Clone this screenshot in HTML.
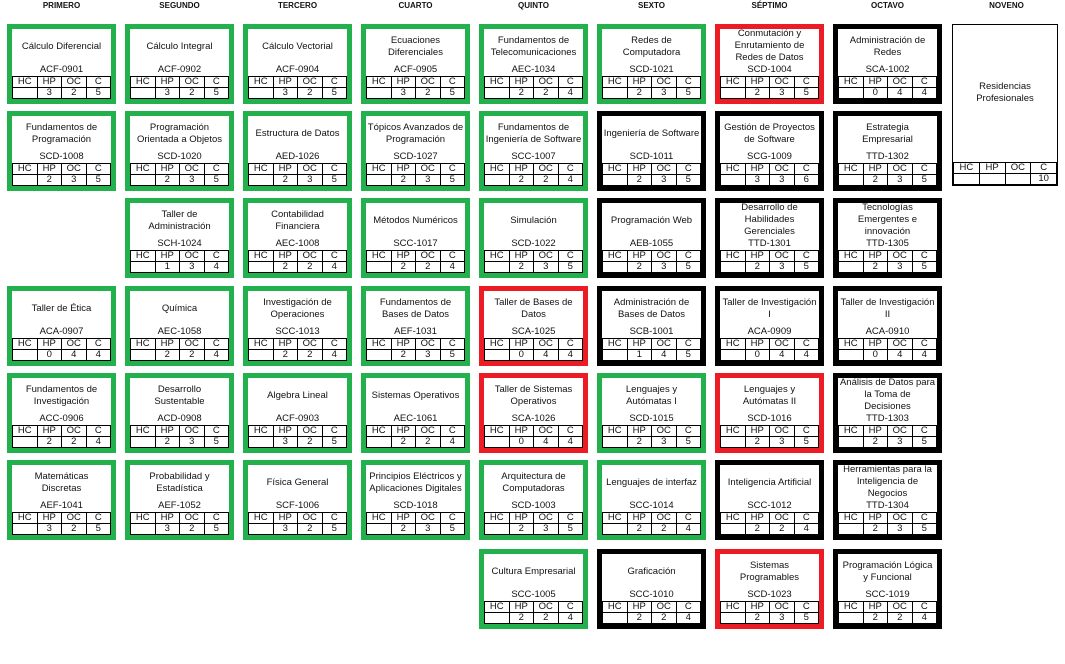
<!DOCTYPE html>
<html><head><meta charset="utf-8"><style>
body{margin:0;width:1065px;height:664px;background:#fff;position:relative;overflow:hidden;font-family:"Liberation Sans",sans-serif;color:#111}
.h{position:absolute;top:1px;width:109px;text-align:center;font-size:8px;font-weight:bold}
.b{position:absolute;width:99px;height:70px;border:5px solid #22b14c;background:#fff;box-sizing:content-box}
.g{border-color:#22b14c}.r{border-color:#ed1c24}.k{border-color:#000}
.t{position:absolute;left:0;right:0;top:0;height:35px;display:flex;align-items:center;justify-content:center;text-align:center;font-size:9.5px;line-height:12px}
.c{position:absolute;left:0;right:0;top:35px;text-align:center;font-size:9.5px;line-height:11px}
table{position:absolute;left:0;bottom:0;width:100%;border-collapse:collapse;font-size:9.5px;table-layout:fixed}
td{border:1px solid #000;height:10px;padding:0;text-align:center;line-height:10px}
</style></head><body>
<div class="h" style="left:7px">PRIMERO</div><div class="h" style="left:125px">SEGUNDO</div><div class="h" style="left:243px">TERCERO</div><div class="h" style="left:361px">CUARTO</div><div class="h" style="left:479px">QUINTO</div><div class="h" style="left:597px">SEXTO</div><div class="h" style="left:715px">SÉPTIMO</div><div class="h" style="left:833px">OCTAVO</div><div class="h" style="left:952px">NOVENO</div>

<!-- col1 -->
<div class="b g" style="left:7px;top:24px"><div class="t">Cálculo Diferencial</div><div class="c">ACF-0901</div><table><tr><td>HC</td><td>HP</td><td>OC</td><td>C</td></tr><tr><td></td><td>3</td><td>2</td><td>5</td></tr></table></div>
<div class="b g" style="left:7px;top:111px"><div class="t">Fundamentos de<br>Programación</div><div class="c">SCD-1008</div><table><tr><td>HC</td><td>HP</td><td>OC</td><td>C</td></tr><tr><td></td><td>2</td><td>3</td><td>5</td></tr></table></div>
<div class="b g" style="left:7px;top:286px"><div class="t">Taller de Ética</div><div class="c">ACA-0907</div><table><tr><td>HC</td><td>HP</td><td>OC</td><td>C</td></tr><tr><td></td><td>0</td><td>4</td><td>4</td></tr></table></div>
<div class="b g" style="left:7px;top:373px"><div class="t">Fundamentos de<br>Investigación</div><div class="c">ACC-0906</div><table><tr><td>HC</td><td>HP</td><td>OC</td><td>C</td></tr><tr><td></td><td>2</td><td>2</td><td>4</td></tr></table></div>
<div class="b g" style="left:7px;top:460px"><div class="t">Matemáticas<br>Discretas</div><div class="c">AEF-1041</div><table><tr><td>HC</td><td>HP</td><td>OC</td><td>C</td></tr><tr><td></td><td>3</td><td>2</td><td>5</td></tr></table></div>

<!-- col2 -->
<div class="b g" style="left:125px;top:24px"><div class="t">Cálculo Integral</div><div class="c">ACF-0902</div><table><tr><td>HC</td><td>HP</td><td>OC</td><td>C</td></tr><tr><td></td><td>3</td><td>2</td><td>5</td></tr></table></div>
<div class="b g" style="left:125px;top:111px"><div class="t">Programación<br>Orientada a Objetos</div><div class="c">SCD-1020</div><table><tr><td>HC</td><td>HP</td><td>OC</td><td>C</td></tr><tr><td></td><td>2</td><td>3</td><td>5</td></tr></table></div>
<div class="b g" style="left:125px;top:198px"><div class="t">Taller de<br>Administración</div><div class="c">SCH-1024</div><table><tr><td>HC</td><td>HP</td><td>OC</td><td>C</td></tr><tr><td></td><td>1</td><td>3</td><td>4</td></tr></table></div>
<div class="b g" style="left:125px;top:286px"><div class="t">Química</div><div class="c">AEC-1058</div><table><tr><td>HC</td><td>HP</td><td>OC</td><td>C</td></tr><tr><td></td><td>2</td><td>2</td><td>4</td></tr></table></div>
<div class="b g" style="left:125px;top:373px"><div class="t">Desarrollo<br>Sustentable</div><div class="c">ACD-0908</div><table><tr><td>HC</td><td>HP</td><td>OC</td><td>C</td></tr><tr><td></td><td>2</td><td>3</td><td>5</td></tr></table></div>
<div class="b g" style="left:125px;top:460px"><div class="t">Probabilidad y<br>Estadística</div><div class="c">AEF-1052</div><table><tr><td>HC</td><td>HP</td><td>OC</td><td>C</td></tr><tr><td></td><td>3</td><td>2</td><td>5</td></tr></table></div>

<!-- col3 -->
<div class="b g" style="left:243px;top:24px"><div class="t">Cálculo Vectorial</div><div class="c">ACF-0904</div><table><tr><td>HC</td><td>HP</td><td>OC</td><td>C</td></tr><tr><td></td><td>3</td><td>2</td><td>5</td></tr></table></div>
<div class="b g" style="left:243px;top:111px"><div class="t">Estructura de Datos</div><div class="c">AED-1026</div><table><tr><td>HC</td><td>HP</td><td>OC</td><td>C</td></tr><tr><td></td><td>2</td><td>3</td><td>5</td></tr></table></div>
<div class="b g" style="left:243px;top:198px"><div class="t">Contabilidad<br>Financiera</div><div class="c">AEC-1008</div><table><tr><td>HC</td><td>HP</td><td>OC</td><td>C</td></tr><tr><td></td><td>2</td><td>2</td><td>4</td></tr></table></div>
<div class="b g" style="left:243px;top:286px"><div class="t">Investigación de<br>Operaciones</div><div class="c">SCC-1013</div><table><tr><td>HC</td><td>HP</td><td>OC</td><td>C</td></tr><tr><td></td><td>2</td><td>2</td><td>4</td></tr></table></div>
<div class="b g" style="left:243px;top:373px"><div class="t">Algebra Lineal</div><div class="c">ACF-0903</div><table><tr><td>HC</td><td>HP</td><td>OC</td><td>C</td></tr><tr><td></td><td>3</td><td>2</td><td>5</td></tr></table></div>
<div class="b g" style="left:243px;top:460px"><div class="t">Física General</div><div class="c">SCF-1006</div><table><tr><td>HC</td><td>HP</td><td>OC</td><td>C</td></tr><tr><td></td><td>3</td><td>2</td><td>5</td></tr></table></div>

<!-- col4 -->
<div class="b g" style="left:361px;top:24px"><div class="t">Ecuaciones<br>Diferenciales</div><div class="c">ACF-0905</div><table><tr><td>HC</td><td>HP</td><td>OC</td><td>C</td></tr><tr><td></td><td>3</td><td>2</td><td>5</td></tr></table></div>
<div class="b g" style="left:361px;top:111px"><div class="t">Tópicos Avanzados de<br>Programación</div><div class="c">SCD-1027</div><table><tr><td>HC</td><td>HP</td><td>OC</td><td>C</td></tr><tr><td></td><td>2</td><td>3</td><td>5</td></tr></table></div>
<div class="b g" style="left:361px;top:198px"><div class="t">Métodos Numéricos</div><div class="c">SCC-1017</div><table><tr><td>HC</td><td>HP</td><td>OC</td><td>C</td></tr><tr><td></td><td>2</td><td>2</td><td>4</td></tr></table></div>
<div class="b g" style="left:361px;top:286px"><div class="t">Fundamentos de<br>Bases de Datos</div><div class="c">AEF-1031</div><table><tr><td>HC</td><td>HP</td><td>OC</td><td>C</td></tr><tr><td></td><td>2</td><td>3</td><td>5</td></tr></table></div>
<div class="b g" style="left:361px;top:373px"><div class="t">Sistemas Operativos</div><div class="c">AEC-1061</div><table><tr><td>HC</td><td>HP</td><td>OC</td><td>C</td></tr><tr><td></td><td>2</td><td>2</td><td>4</td></tr></table></div>
<div class="b g" style="left:361px;top:460px"><div class="t">Principios Eléctricos y<br>Aplicaciones Digitales</div><div class="c">SCD-1018</div><table><tr><td>HC</td><td>HP</td><td>OC</td><td>C</td></tr><tr><td></td><td>2</td><td>3</td><td>5</td></tr></table></div>

<!-- col5 -->
<div class="b g" style="left:479px;top:24px"><div class="t">Fundamentos de<br>Telecomunicaciones</div><div class="c">AEC-1034</div><table><tr><td>HC</td><td>HP</td><td>OC</td><td>C</td></tr><tr><td></td><td>2</td><td>2</td><td>4</td></tr></table></div>
<div class="b g" style="left:479px;top:111px"><div class="t">Fundamentos de<br>Ingeniería de Software</div><div class="c">SCC-1007</div><table><tr><td>HC</td><td>HP</td><td>OC</td><td>C</td></tr><tr><td></td><td>2</td><td>2</td><td>4</td></tr></table></div>
<div class="b g" style="left:479px;top:198px"><div class="t">Simulación</div><div class="c">SCD-1022</div><table><tr><td>HC</td><td>HP</td><td>OC</td><td>C</td></tr><tr><td></td><td>2</td><td>3</td><td>5</td></tr></table></div>
<div class="b r" style="left:479px;top:286px"><div class="t">Taller de Bases de<br>Datos</div><div class="c">SCA-1025</div><table><tr><td>HC</td><td>HP</td><td>OC</td><td>C</td></tr><tr><td></td><td>0</td><td>4</td><td>4</td></tr></table></div>
<div class="b r" style="left:479px;top:373px"><div class="t">Taller de Sistemas<br>Operativos</div><div class="c">SCA-1026</div><table><tr><td>HC</td><td>HP</td><td>OC</td><td>C</td></tr><tr><td></td><td>0</td><td>4</td><td>4</td></tr></table></div>
<div class="b g" style="left:479px;top:460px"><div class="t">Arquitectura de<br>Computadoras</div><div class="c">SCD-1003</div><table><tr><td>HC</td><td>HP</td><td>OC</td><td>C</td></tr><tr><td></td><td>2</td><td>3</td><td>5</td></tr></table></div>
<div class="b g" style="left:479px;top:549px"><div class="t">Cultura Empresarial</div><div class="c">SCC-1005</div><table><tr><td>HC</td><td>HP</td><td>OC</td><td>C</td></tr><tr><td></td><td>2</td><td>2</td><td>4</td></tr></table></div>

<!-- col6 -->
<div class="b g" style="left:597px;top:24px"><div class="t">Redes de<br>Computadora</div><div class="c">SCD-1021</div><table><tr><td>HC</td><td>HP</td><td>OC</td><td>C</td></tr><tr><td></td><td>2</td><td>3</td><td>5</td></tr></table></div>
<div class="b k" style="left:597px;top:111px"><div class="t">Ingeniería de Software</div><div class="c">SCD-1011</div><table><tr><td>HC</td><td>HP</td><td>OC</td><td>C</td></tr><tr><td></td><td>2</td><td>3</td><td>5</td></tr></table></div>
<div class="b k" style="left:597px;top:198px"><div class="t">Programación Web</div><div class="c">AEB-1055</div><table><tr><td>HC</td><td>HP</td><td>OC</td><td>C</td></tr><tr><td></td><td>2</td><td>3</td><td>5</td></tr></table></div>
<div class="b k" style="left:597px;top:286px"><div class="t">Administración de<br>Bases de Datos</div><div class="c">SCB-1001</div><table><tr><td>HC</td><td>HP</td><td>OC</td><td>C</td></tr><tr><td></td><td>1</td><td>4</td><td>5</td></tr></table></div>
<div class="b g" style="left:597px;top:373px"><div class="t">Lenguajes y<br>Autómatas I</div><div class="c">SCD-1015</div><table><tr><td>HC</td><td>HP</td><td>OC</td><td>C</td></tr><tr><td></td><td>2</td><td>3</td><td>5</td></tr></table></div>
<div class="b g" style="left:597px;top:460px"><div class="t">Lenguajes de interfaz</div><div class="c">SCC-1014</div><table><tr><td>HC</td><td>HP</td><td>OC</td><td>C</td></tr><tr><td></td><td>2</td><td>2</td><td>4</td></tr></table></div>
<div class="b k" style="left:597px;top:549px"><div class="t">Graficación</div><div class="c">SCC-1010</div><table><tr><td>HC</td><td>HP</td><td>OC</td><td>C</td></tr><tr><td></td><td>2</td><td>2</td><td>4</td></tr></table></div>

<!-- col7 -->
<div class="b r" style="left:715px;top:24px"><div class="t" style="top:-1px">Conmutación y<br>Enrutamiento de<br>Redes de Datos</div><div class="c">SCD-1004</div><table><tr><td>HC</td><td>HP</td><td>OC</td><td>C</td></tr><tr><td></td><td>2</td><td>3</td><td>5</td></tr></table></div>
<div class="b k" style="left:715px;top:111px"><div class="t">Gestión de Proyectos<br>de Software</div><div class="c">SCG-1009</div><table><tr><td>HC</td><td>HP</td><td>OC</td><td>C</td></tr><tr><td></td><td>3</td><td>3</td><td>6</td></tr></table></div>
<div class="b k" style="left:715px;top:198px"><div class="t" style="top:-1px">Desarrollo de<br>Habilidades<br>Gerenciales</div><div class="c">TTD-1301</div><table><tr><td>HC</td><td>HP</td><td>OC</td><td>C</td></tr><tr><td></td><td>2</td><td>3</td><td>5</td></tr></table></div>
<div class="b k" style="left:715px;top:286px"><div class="t">Taller de Investigación<br>I</div><div class="c">ACA-0909</div><table><tr><td>HC</td><td>HP</td><td>OC</td><td>C</td></tr><tr><td></td><td>0</td><td>4</td><td>4</td></tr></table></div>
<div class="b r" style="left:715px;top:373px"><div class="t">Lenguajes y<br>Autómatas II</div><div class="c">SCD-1016</div><table><tr><td>HC</td><td>HP</td><td>OC</td><td>C</td></tr><tr><td></td><td>2</td><td>3</td><td>5</td></tr></table></div>
<div class="b k" style="left:715px;top:460px"><div class="t">Inteligencia Artificial</div><div class="c">SCC-1012</div><table><tr><td>HC</td><td>HP</td><td>OC</td><td>C</td></tr><tr><td></td><td>2</td><td>2</td><td>4</td></tr></table></div>
<div class="b r" style="left:715px;top:549px"><div class="t">Sistemas<br>Programables</div><div class="c">SCD-1023</div><table><tr><td>HC</td><td>HP</td><td>OC</td><td>C</td></tr><tr><td></td><td>2</td><td>3</td><td>5</td></tr></table></div>

<!-- col8 -->
<div class="b k" style="left:833px;top:24px"><div class="t">Administración de<br>Redes</div><div class="c">SCA-1002</div><table><tr><td>HC</td><td>HP</td><td>OC</td><td>C</td></tr><tr><td></td><td>0</td><td>4</td><td>4</td></tr></table></div>
<div class="b k" style="left:833px;top:111px"><div class="t">Estrategia<br>Empresarial</div><div class="c">TTD-1302</div><table><tr><td>HC</td><td>HP</td><td>OC</td><td>C</td></tr><tr><td></td><td>2</td><td>3</td><td>5</td></tr></table></div>
<div class="b k" style="left:833px;top:198px"><div class="t" style="top:-1px">Tecnologías<br>Emergentes e<br>innovación</div><div class="c">TTD-1305</div><table><tr><td>HC</td><td>HP</td><td>OC</td><td>C</td></tr><tr><td></td><td>2</td><td>3</td><td>5</td></tr></table></div>
<div class="b k" style="left:833px;top:286px"><div class="t">Taller de Investigación<br>II</div><div class="c">ACA-0910</div><table><tr><td>HC</td><td>HP</td><td>OC</td><td>C</td></tr><tr><td></td><td>0</td><td>4</td><td>4</td></tr></table></div>
<div class="b k" style="left:833px;top:373px"><div class="t" style="top:-1px">Análisis de Datos para<br>la Toma de<br>Decisiones</div><div class="c">TTD-1303</div><table><tr><td>HC</td><td>HP</td><td>OC</td><td>C</td></tr><tr><td></td><td>2</td><td>3</td><td>5</td></tr></table></div>
<div class="b k" style="left:833px;top:460px"><div class="t" style="top:-1px">Herramientas para la<br>Inteligencia de<br>Negocios</div><div class="c">TTD-1304</div><table><tr><td>HC</td><td>HP</td><td>OC</td><td>C</td></tr><tr><td></td><td>2</td><td>3</td><td>5</td></tr></table></div>
<div class="b k" style="left:833px;top:549px"><div class="t">Programación Lógica<br>y Funcional</div><div class="c">SCC-1019</div><table><tr><td>HC</td><td>HP</td><td>OC</td><td>C</td></tr><tr><td></td><td>2</td><td>2</td><td>4</td></tr></table></div>

<!-- col9 -->
<div style="position:absolute;left:952px;top:24px;width:104px;height:160px;border:1px solid #000;background:#fff">
<div class="t" style="height:136px">Residencias<br>Profesionales</div>
<table><tr><td>HC</td><td>HP</td><td>OC</td><td>C</td></tr><tr><td></td><td></td><td></td><td>10</td></tr></table>
</div>
</body></html>
